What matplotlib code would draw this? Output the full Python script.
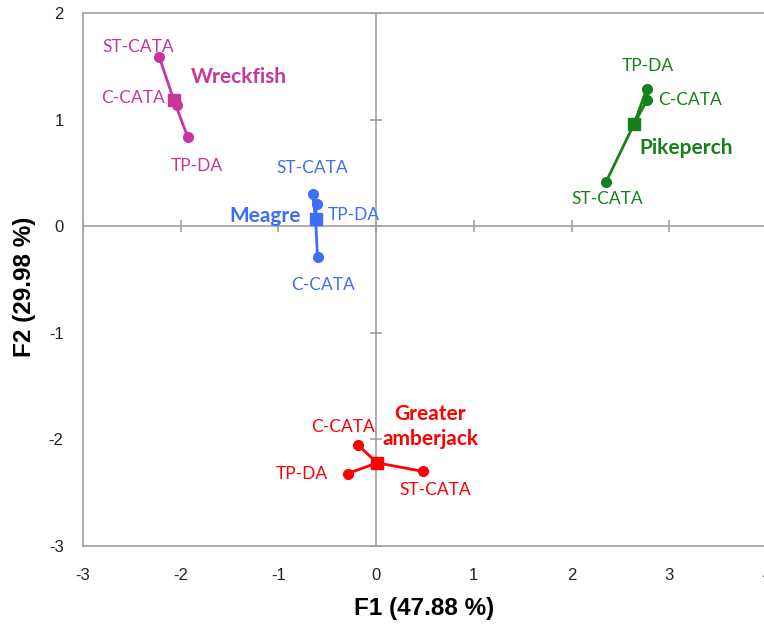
import numpy as np
import matplotlib
matplotlib.use("Agg")
import matplotlib.pyplot as plt

plt.rcParams['axes.unicode_minus'] = False

# === DATA ===
methods = ['ST-CATA', 'C-CATA', 'TP-DA']
groups = ['Wreckfish', 'Meagre', 'Pikeperch', 'Greater\namberjack']

wreckfish_f1 = [-2.22, -2.04, -1.93]
wreckfish_f2 = [1.59, 1.14, 0.84]
wreckfish_centroid = (-2.07, 1.18)

meagre_f1 = [-0.65, -0.60, -0.61]
meagre_f2 = [0.30, -0.29, 0.21]
meagre_centroid = (-0.62, 0.07)

pikeperch_f1 = [2.35, 2.77, 2.77]
pikeperch_f2 = [0.41, 1.18, 1.29]
pikeperch_centroid = (2.64, 0.96)

amberjack_f1 = [0.48, -0.19, -0.29]
amberjack_f2 = [-2.30, -2.05, -2.32]
amberjack_centroid = (0.01, -2.22)

x_ticks = [-3, -2, -1, 0, 1, 2, 3, 4]
y_ticks = [-3, -2, -1, 0, 1, 2]

# === STYLE ===
colors = ['#C8369C', '#3F6EF4', '#17801A', '#FF0000']
grey = '#A0A0A0'
label_font = 'Lato'

# label offsets in pixels (ST-CATA, C-CATA, TP-DA), plus group-name offset and alignment
point_offsets = [
    [(-21, 10, 'center'), (-12, 7, 'right'), (9, -29, 'center')],
    [(0, 26, 'center'), (5, -28, 'center'), (11, -11, 'left')],
    [(1, -17, 'center'), (11, 0, 'left'), (1, 23, 'center')],
    [(12, -19, 'center'), (-15, 18, 'center'), (-46, 0, 'center')],
]
group_offsets = [(17, 23, 'left'), (-15, 3, 'right'), (5, -24, 'left'), (53, 36, 'center')]

all_f1 = [wreckfish_f1, meagre_f1, pikeperch_f1, amberjack_f1]
all_f2 = [wreckfish_f2, meagre_f2, pikeperch_f2, amberjack_f2]
centroids = [wreckfish_centroid, meagre_centroid, pikeperch_centroid, amberjack_centroid]

# === PLOT ===
fig = plt.figure(figsize=(7.64, 6.24), dpi=100)
ax = fig.add_axes([83 / 764, 78 / 624, 684 / 764, 533 / 624])
ax.set_xlim(-3, 4)
ax.set_ylim(-3, 2)

for s in ['left', 'bottom', 'top']:
    ax.spines[s].set_color(grey)
    ax.spines[s].set_linewidth(1.2)
ax.spines['right'].set_visible(False)

# zero lines with crossing tick marks
ax.axhline(0, color=grey, lw=1.2, zorder=1)
ax.axvline(0, color=grey, lw=1.2, zorder=1)
ax.plot(x_ticks, np.zeros(len(x_ticks)), ls='none', marker='|', ms=9, mew=1.2, color=grey, zorder=1)
ax.plot(np.zeros(len(y_ticks)), y_ticks, ls='none', marker='_', ms=9, mew=1.2, color=grey, zorder=1)

ax.set_xticks(x_ticks)
ax.set_yticks(y_ticks)
ax.tick_params(length=0, labelsize=12, labelcolor='#222222')
ax.tick_params(axis='x', pad=16)
ax.tick_params(axis='y', pad=14)
for lab in ax.get_xticklabels() + ax.get_yticklabels():
    lab.set_family(['Liberation Sans Narrow', 'Liberation Sans', 'DejaVu Sans'])

for i, name in enumerate(groups):
    c = colors[i]
    cx, cy = centroids[i]
    f1 = all_f1[i]
    f2 = all_f2[i]
    for x, y in zip(f1, f2):
        ax.plot([cx, x], [cy, y], color=c, lw=2, zorder=2)
    ax.plot(f1, f2, ls='none', marker='o', ms=7, color=c, zorder=3)
    ax.plot([cx], [cy], ls='none', marker='s', ms=8, color=c, zorder=4)
    for j, m in enumerate(methods):
        dx, dy, ha = point_offsets[i][j]
        ax.annotate(m, (f1[j], f2[j]), xytext=(dx, dy), textcoords='offset pixels',
                    ha=ha, va='center', color=c, fontsize=12.5, family=label_font)
    dx, dy, ha = group_offsets[i]
    ax.annotate(name, (cx, cy), xytext=(dx, dy), textcoords='offset pixels',
                ha=ha, va='center', multialignment='center', color=c,
                fontsize=15, fontweight='bold', family=label_font, linespacing=1.3)

fig.text(424 / 764, 1 - 609 / 624, 'F1 (47.88 %)', ha='center', va='center',
         fontsize=17.5, fontweight='bold', family='Liberation Sans')
fig.text(25 / 764, 1 - 287 / 624, 'F2 (29.98 %)', ha='center', va='center', rotation=90,
         fontsize=17.5, fontweight='bold', family='Liberation Sans')

fig.savefig('out.png', dpi=100)
